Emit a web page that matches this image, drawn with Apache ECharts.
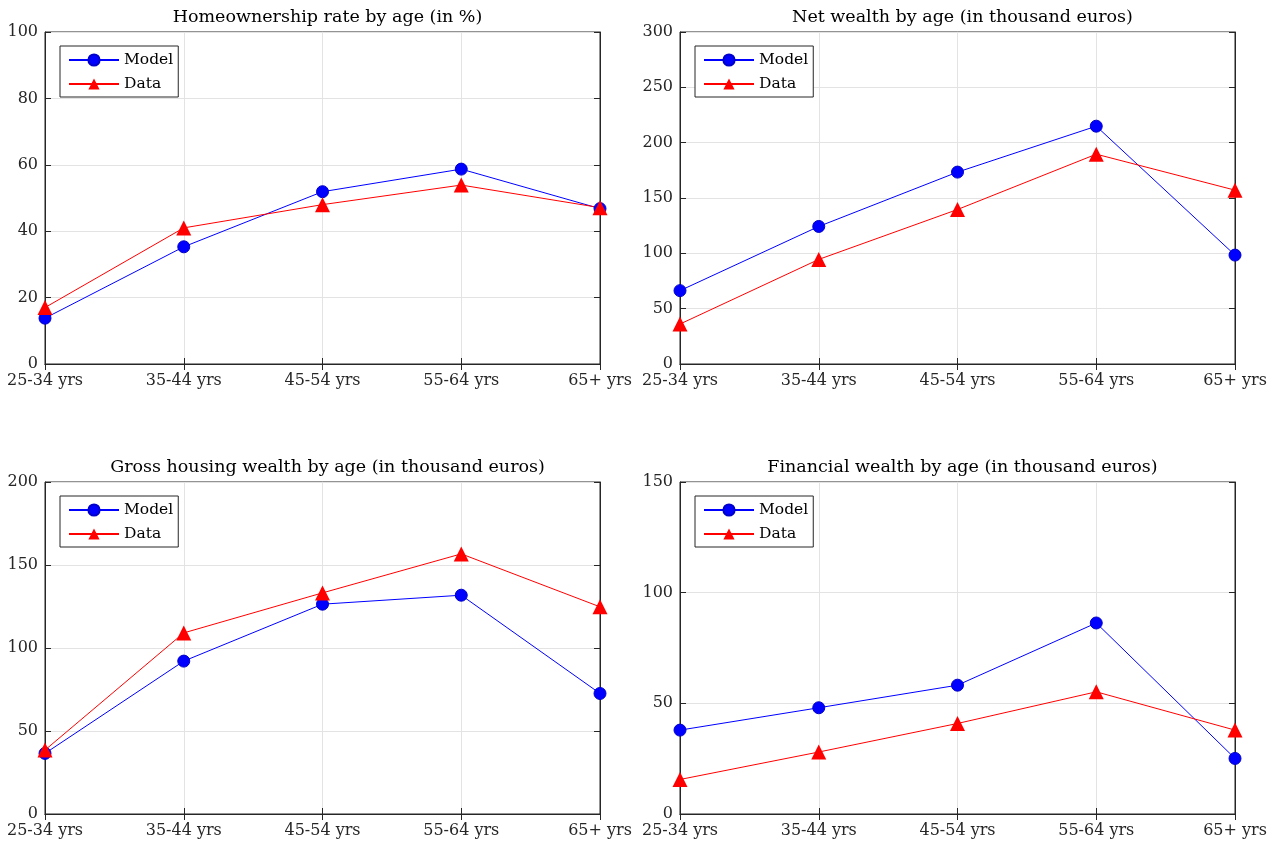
<!DOCTYPE html>
<html>
<head>
<meta charset="utf-8">
<script src="https://cdn.jsdelivr.net/npm/echarts@6/dist/echarts.min.js"></script>
<style>html,body{margin:0;padding:0;background:#fff}#c{width:1280px;height:846px}</style>
</head>
<body>
<div id="c"></div>
<script>
const categories = ['25-34 yrs', '35-44 yrs', '45-54 yrs', '55-64 yrs', '65+ yrs'];

const titles = [
  'Homeownership rate by age (in %)',
  'Net wealth by age (in thousand euros)',
  'Gross housing wealth by age (in thousand euros)',
  'Financial wealth by age (in thousand euros)'
];

const homeModel = [13.8, 35.3, 51.9, 58.7, 46.8];
const homeData  = [17.0, 41.0, 48.0, 53.9, 47.1];

const netModel = [66.3, 124.3, 173.4, 214.9, 98.4];
const netData  = [36.1, 94.5, 139.6, 189.6, 157.1];

const housingModel = [36.5, 92.1, 126.4, 131.8, 72.6];
const housingData  = [38.5, 109.1, 133.2, 156.7, 124.8];

const finModel = [37.9, 48.0, 58.2, 86.3, 25.1];
const finData  = [15.6, 28.0, 40.9, 55.2, 37.9];

const yMax = [100, 300, 200, 150];
const yInterval = [20, 50, 50, 50];

const modelSeries = [homeModel, netModel, housingModel, finModel];
const dataSeries = [homeData, netData, housingData, finData];

const FONT = 'DejaVu Serif';
const gridPos = [
  {left: 45, top: 32, width: 555, height: 332},
  {left: 680, top: 32, width: 555, height: 332},
  {left: 45, top: 482, width: 555, height: 332},
  {left: 680, top: 482, width: 555, height: 332}
];

const option = {
  animation: false,
  backgroundColor: '#fff',
  title: [], grid: [], xAxis: [], yAxis: [], series: [], legend: []
};

gridPos.forEach((g, i) => {
  option.grid.push({
    left: g.left, top: g.top, width: g.width, height: g.height,
    show: true, borderColor: '#262626', borderWidth: 1, backgroundColor: '#fff'
  });
  option.title.push({
    text: titles[i], left: g.left + g.width / 2, top: g.top - 29, textAlign: 'center',
    textStyle: {fontFamily: FONT, fontWeight: 'normal', fontSize: 17.5, color: '#000'}
  });
  option.xAxis.push({
    type: 'category', gridIndex: i, data: categories, boundaryGap: false, position: 'bottom',
    axisLine: {lineStyle: {color: '#262626'}},
    axisTick: {inside: true, length: 6, lineStyle: {color: '#262626'}},
    axisLabel: {fontFamily: FONT, fontSize: 16, color: '#262626', margin: 9},
    splitLine: {show: true, lineStyle: {color: '#e3e3e3'}}
  });
  option.xAxis.push({
    type: 'category', gridIndex: i, data: categories, boundaryGap: false, position: 'top',
    axisLine: {lineStyle: {color: '#262626'}},
    axisTick: {inside: true, length: 6, lineStyle: {color: '#262626'}},
    axisLabel: {show: false}, splitLine: {show: false}
  });
  option.yAxis.push({
    type: 'value', gridIndex: i, min: 0, max: yMax[i], interval: yInterval[i], position: 'left',
    axisLine: {show: true, lineStyle: {color: '#262626'}},
    axisTick: {show: true, inside: true, length: 6, lineStyle: {color: '#262626'}},
    axisLabel: {fontFamily: FONT, fontSize: 16, color: '#262626', margin: 7},
    splitLine: {show: true, lineStyle: {color: '#e3e3e3'}}
  });
  option.yAxis.push({
    type: 'value', gridIndex: i, min: 0, max: yMax[i], interval: yInterval[i], position: 'right',
    axisLine: {show: true, lineStyle: {color: '#262626'}},
    axisTick: {show: true, inside: true, length: 6, lineStyle: {color: '#262626'}},
    axisLabel: {show: false}, splitLine: {show: false}
  });
  option.series.push({
    name: 'Model', type: 'line', xAxisIndex: 2 * i, yAxisIndex: 2 * i, data: modelSeries[i],
    symbol: 'circle', symbolSize: 12,
    lineStyle: {color: '#0000ff', width: 1},
    itemStyle: {color: '#0000ff', borderColor: '#0000cc', borderWidth: 1}
  });
  option.series.push({
    name: 'Data', type: 'line', xAxisIndex: 2 * i, yAxisIndex: 2 * i, data: dataSeries[i],
    symbol: 'triangle', symbolSize: 15,
    lineStyle: {color: '#ff0000', width: 1},
    itemStyle: {color: '#ff0000'}
  });
  option.legend.push({
    data: ['Model', 'Data'], orient: 'vertical', left: g.left + 15, top: g.top + 14,
    backgroundColor: '#fff', borderColor: '#262626', borderWidth: 1, borderRadius: 0,
    padding: [6, 5, 5, 8], itemGap: 8, itemWidth: 50, itemHeight: 14,
    textStyle: {fontFamily: FONT, fontSize: 15.5, color: '#000'},
    selectedMode: false
  });
});

const chart = echarts.init(document.getElementById('c'), null, {renderer: 'canvas'});
chart.setOption(option);
</script>
</body>
</html>
